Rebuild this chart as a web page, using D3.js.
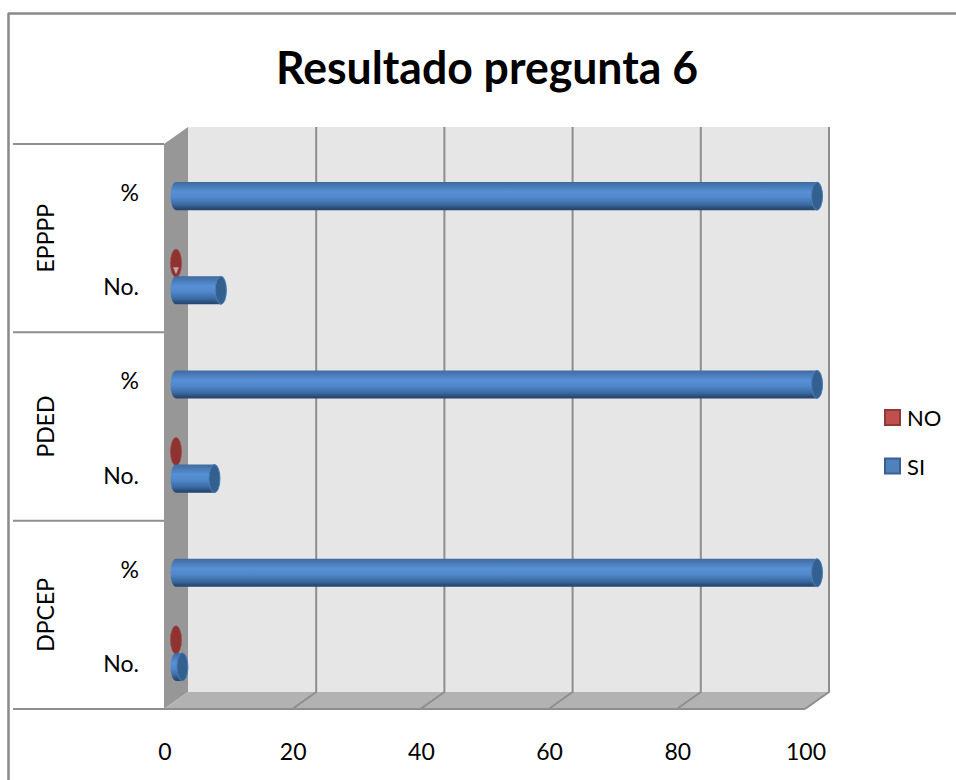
<!DOCTYPE html>
<html>
<head>
<meta charset="utf-8">
<script src="https://cdn.jsdelivr.net/npm/d3@7"></script>
<style>
  body { margin: 0; background: #fff; }
  text { font-family: Lato, "Open Sans", sans-serif; fill: #000; }
</style>
</head>
<body>
<div id="my_dataviz"></div>
<script>
// data
var categories = ["DPCEP", "PDED", "EPPPP"];
var subCategories = ["No.", "%"];
var seriesNames = ["NO", "SI"];
var siNo = [1, 6, 7];
var siPct = [100, 100, 100];
var noNo = [0, 0, 0];
var ticks = [0, 20, 40, 60, 80, 100];

var width = 956, height = 780;
var left = 164, right = 805, top_ = 144, bottom = 709;
var depthX = 24, depthY = 17;
var lineCol = "#8e8e8e";

var svg = d3.select("#my_dataviz")
  .append("svg")
    .attr("width", width)
    .attr("height", height)
    .style("display", "block");

// gradients for the cylinders
var defs = svg.append("defs");
function tube(id, stops) {
  var g = defs.append("linearGradient").attr("id", id)
    .attr("x1", 0).attr("y1", 0).attr("x2", 0).attr("y2", 1);
  stops.forEach(function(s) {
    g.append("stop").attr("offset", s[0]).attr("stop-color", s[1]);
  });
}
tube("blueTube", [[0, "#3f6a9f"], [0.1, "#4675ae"], [0.35, "#5790d6"], [0.55, "#5288cb"], [0.8, "#3a6aa3"], [0.93, "#2a4d78"], [1, "#25436a"]]);

//scales
var x = d3.scaleLinear().domain([0, 100]).range([left, right]);
var yCat = d3.scaleBand().domain(categories).range([bottom, top_]);
var ySub = d3.scaleBand().domain(subCategories).range([yCat.bandwidth(), 0]);
var ySer = d3.scaleBand().domain(seriesNames).range([0, ySub.bandwidth()]).paddingInner(0).paddingOuter(0.74);

// outer frame
svg.append("line").attr("x1", 8.5).attr("x2", 8.5).attr("y1", 13).attr("y2", height)
  .attr("stroke", "#8a8a8a").attr("stroke-width", 2.5);
svg.append("line").attr("x1", 8).attr("x2", width).attr("y1", 13.5).attr("y2", 13.5)
  .attr("stroke", "#8a8a8a").attr("stroke-width", 2.5);

svg.append("text")
  .attr("x", 487).attr("y", 84)
  .attr("text-anchor", "middle")
  .style("font-size", "45px").style("font-weight", 700)
  .attr("textLength", 422).attr("lengthAdjust", "spacingAndGlyphs")
  .text("Resultado pregunta 6");

// back wall
svg.append("rect")
  .attr("x", left + depthX).attr("y", top_ - depthY)
  .attr("width", right - left).attr("height", bottom - top_)
  .attr("fill", "#e6e6e6");

// left side wall
svg.append("path")
  .attr("d", d3.line()([[left, top_], [left + depthX, top_ - depthY], [left + depthX, bottom - depthY], [left, bottom]]))
  .attr("fill", "#979797");

// floor
svg.append("path")
  .attr("d", d3.line()([[left, bottom], [left + depthX, bottom - depthY], [right + depthX, bottom - depthY], [right, bottom]]))
  .attr("fill", "#b2b2b2");

// gridlines, back wall and floor
svg.append("g").selectAll("path")
  .data(ticks.slice(1))
  .enter().append("path")
    .attr("d", function(d) {
      return d3.line()([[x(d), bottom], [x(d) + depthX, bottom - depthY], [x(d) + depthX, top_ - depthY]]);
    })
    .attr("fill", "none")
    .attr("stroke", lineCol)
    .attr("stroke-width", 2);

// separators of the category axis and the floor front edge
svg.append("g").selectAll("line")
  .data(d3.range(categories.length + 1))
  .enter().append("line")
    .attr("x1", 13).attr("x2", left)
    .attr("y1", function(d) { return bottom - d * yCat.bandwidth(); })
    .attr("y2", function(d) { return bottom - d * yCat.bandwidth(); })
    .attr("stroke", lineCol).attr("stroke-width", 2);
svg.append("line")
  .attr("x1", left).attr("x2", right).attr("y1", bottom).attr("y2", bottom)
  .attr("stroke", lineCol).attr("stroke-width", 2);

// x tick labels
svg.append("g").selectAll("text")
  .data(ticks)
  .enter().append("text")
    .attr("x", function(d) { return x(d) + 1; })
    .attr("y", 760)
    .attr("text-anchor", "middle")
    .style("font-size", "23px")
    .text(function(d) { return d; });

// category labels
svg.append("g").selectAll("text")
  .data(categories)
  .enter().append("text")
    .attr("transform", function(d) {
      return "translate(54," + (yCat(d) + yCat.bandwidth() / 2) + "), rotate(-90)";
    })
    .attr("text-anchor", "middle")
    .style("font-size", "23px")
    .text(function(d) { return d; });

categories.forEach(function(c) {
  subCategories.forEach(function(s) {
    svg.append("text")
      .attr("x", 139)
      .attr("y", yCat(c) + ySub(s) + ySub.bandwidth() / 2 + 10)
      .attr("text-anchor", "end")
      .style("font-size", "23px")
      .text(s);
  });
});

// bars sit half way into the depth of the chart
var bars = [];
categories.forEach(function(c, i) {
  bars.push({cat: c, sub: "No.", ser: "NO", value: noNo[i]});
  bars.push({cat: c, sub: "No.", ser: "SI", value: siNo[i]});
  bars.push({cat: c, sub: "%", ser: "SI", value: siPct[i]});
});

var capRx = 5.5;
var mark = svg.append("g").selectAll("g")
  .data(bars)
  .enter().append("g")
    .attr("transform", function(d) {
      return "translate(" + (depthX / 2) + "," +
        (yCat(d.cat) + ySub(d.sub) + ySer(d.ser) + ySer.bandwidth() / 2 - depthY / 2) + ")";
    });

// zero bars are just a flat red disc
mark.filter(function(d) { return d.value === 0; })
  .append("ellipse")
    .attr("cx", function(d) { return x(d.value); })
    .attr("rx", capRx)
    .attr("ry", ySer.bandwidth() / 2 + 0.5)
    .attr("fill", "#8f3331")
    .attr("stroke", "#a04543")
    .attr("stroke-width", 0.6);

// small pale notch on the EPPPP disc
mark.filter(function(d) { return d.value === 0 && d.cat === "EPPPP"; })
  .append("path")
    .attr("d", function(d) {
      var cx = x(d.value);
      return d3.line()([[cx - 3, 4], [cx + 3, 4], [cx, 11]]);
    })
    .attr("fill", "#c9a3a2");

var solid = mark.filter(function(d) { return d.value > 0; });
solid.append("path")
  .attr("d", function(d) {
    var h = ySer.bandwidth() / 2 + 0.5, a = x(0), b = x(d.value);
    return "M" + a + "," + (-h) + "L" + b + "," + (-h) +
      "A" + capRx + "," + h + " 0 0 1 " + b + "," + h +
      "L" + a + "," + h +
      "A" + capRx + "," + h + " 0 0 1 " + a + "," + (-h) + "Z";
  })
  .attr("fill", "url(#blueTube)");
solid.append("ellipse")
  .attr("cx", function(d) { return x(d.value); })
  .attr("rx", capRx)
  .attr("ry", ySer.bandwidth() / 2 + 0.5)
  .attr("fill", "#34608f")
  .attr("stroke", "#4a7ebb")
  .attr("stroke-width", 1);

// legend
var legendCols = {NO: ["#c0504d", "#8f3a38"], SI: ["#4f81bd", "#386093"]};
var legend = svg.append("g").selectAll("g")
  .data(seriesNames)
  .enter().append("g")
    .attr("transform", function(d, i) { return "translate(885," + (410 + i * 48.5) + ")"; });
legend.append("rect")
  .attr("width", 15).attr("height", 15)
  .attr("fill", function(d) { return legendCols[d][0]; })
  .attr("stroke", function(d) { return legendCols[d][1]; })
  .attr("stroke-width", 2);
legend.append("text")
  .attr("x", 22).attr("y", 16)
  .style("font-size", "22px")
  .text(function(d) { return d; });
</script>
</body>
</html>
